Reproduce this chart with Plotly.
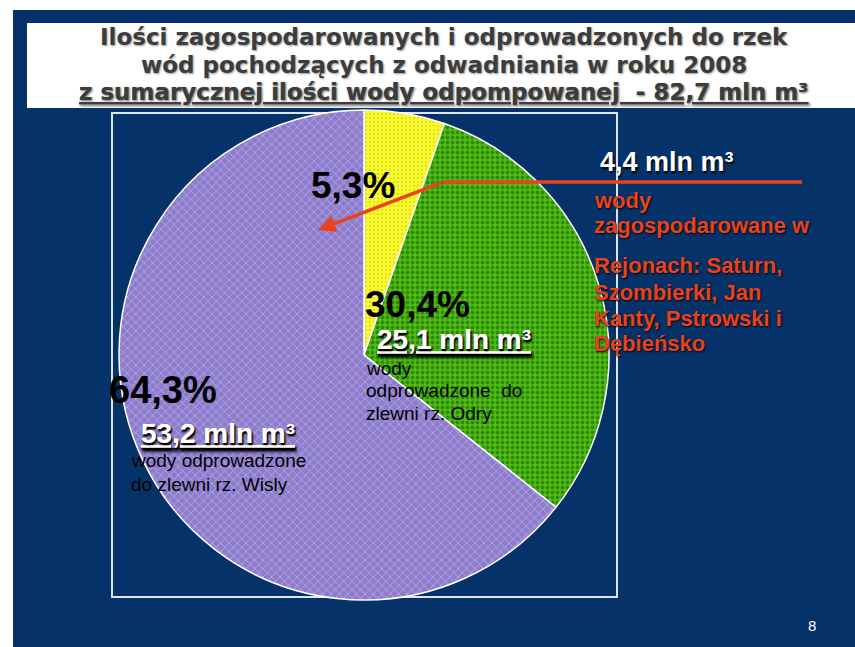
import plotly.graph_objects as go

# ---- data ----
labels = ["wody zagospodarowane", "wody odprowadzone do zlewni rz. Odry", "wody odprowadzone do zlewni rz. Wisly"]
volumes = [4.4, 25.1, 53.2]          # mln m3
percent_labels = ["5,3%", "30,4%", "64,3%"]
volume_labels = ["4,4 mln m³", "25,1 mln m³", "53,2 mln m³"]
total_label = "82,7 mln m³"
year = "2008"

W, H = 855, 647
def X(px): return px / W
def Y(py): return 1 - py / H

NAVY = "#06326A"
RED = "#E8431E"

bg_cols = ["#FFFF14", "#52BE14", "#8C7CCB"]
fg_cols = ["#D8D860", "#2E8A08", "#B8AEE6"]

fig = go.Figure()
cx, cy, r = 364, 355, 245
fig.add_trace(go.Pie(
    labels=labels, values=volumes, sort=False, direction="clockwise", rotation=0,
    textinfo="none", hoverinfo="label+value+percent", showlegend=False,
    marker=dict(colors=bg_cols, line=dict(color="white", width=1.5),
                pattern=dict(shape=[".", ".", "x"], fgcolor=fg_cols, bgcolor=bg_cols,
                             size=[4, 5, 6], solidity=[0.3, 0.45, 0.25])),
    domain=dict(x=[X(cx - r), X(cx + r)], y=[Y(cy + r), Y(cy - r)]),
))

shapes = [
    dict(type="rect", xref="paper", yref="paper", x0=X(13), x1=X(855), y0=Y(647), y1=Y(10),
         fillcolor=NAVY, line=dict(width=0), layer="below"),
    dict(type="rect", xref="paper", yref="paper", x0=X(27), x1=X(855), y0=Y(108), y1=Y(23),
         fillcolor="white", line=dict(width=0), layer="below"),
    dict(type="rect", xref="paper", yref="paper", x0=X(112), x1=X(617), y0=Y(597), y1=Y(113),
         fillcolor="rgba(0,0,0,0)", line=dict(color="#DDE6F0", width=2), layer="below"),
    dict(type="line", xref="paper", yref="paper", x0=X(443), x1=X(802), y0=Y(182), y1=Y(182),
         line=dict(color=RED, width=3.5)),
]

TF = "Liberation Sans, Arial, sans-serif"
annotations = []
def txt(x, y, text, size, color, bold=True, xanchor="center", shadow=None, under=False, family=TF):
    font = dict(family=family, size=size, color=color, weight="bold" if bold else "normal")
    if shadow:
        font["shadow"] = shadow
    if under:
        font["lineposition"] = "under"
    annotations.append(dict(x=X(x), y=Y(y), xref="paper", yref="paper", text=text, showarrow=False,
                            font=font, align="left" if xanchor == "left" else "center",
                            xanchor=xanchor, yanchor="middle"))

GRAY = "#3C3C3C"
tshadow = "1px 1px 2px #999"
TTF = "DejaVu Sans, Liberation Sans, sans-serif"
txt(444, 37, "Ilości zagospodarowanych i odprowadzonych do rzek", 23, GRAY, shadow=tshadow, family=TTF)
txt(444, 65, "wód pochodzących z odwadniania w roku " + year, 23, GRAY, shadow=tshadow, family=TTF)
txt(444, 92, "z sumarycznej ilości wody odpompowanej  - " + total_label, 23, GRAY, shadow=tshadow,
    under=True, family=TTF)

# percentages
txt(353, 185, percent_labels[0], 37, "black")
txt(417, 304, percent_labels[1], 37, "black")
txt(163, 390, percent_labels[2], 38, "black")

wshadow = "1px 2px 2px #000"
txt(667, 162, volume_labels[0], 27, "white", shadow=wshadow)
txt(454, 339, volume_labels[1], 28, "white", shadow=wshadow, under=True)
txt(218, 433, volume_labels[2], 28, "white", shadow=wshadow, under=True)

for yy, t in zip([368, 391, 413], ["wody", "odprowadzone  do", "zlewni rz. Odry"]):
    txt(364, yy, t, 19, "black", bold=False, xanchor="left")
for yy, t in zip([460, 484], ["wody odprowadzone", "do zlewni rz. Wisly"]):
    txt(129, yy, t, 19, "black", bold=False, xanchor="left")

rshadow = "1px 1px 2px #000"
for yy, t in zip([200, 225, 265, 292, 318, 343],
                 ["wody", "zagospodarowane w", "Rejonach: Saturn,", "Szombierki, Jan",
                  "Kanty, Pstrowski i", "Dębieńsko"]):
    txt(592, yy, t, 22, RED, shadow=rshadow, xanchor="left")

txt(812, 625, "8", 15, "white", bold=False)

# arrow
annotations.append(dict(x=X(318), y=Y(230), xref="paper", yref="paper", text="", showarrow=True,
                        ax=125, ay=-48, arrowhead=2, arrowsize=1, arrowwidth=3.5, arrowcolor=RED))

fig.update_layout(width=W, height=H, margin=dict(l=0, r=0, t=0, b=0),
                  paper_bgcolor="white", plot_bgcolor="white",
                  shapes=shapes, annotations=annotations,
                  xaxis=dict(visible=False), yaxis=dict(visible=False))
fig.write_html("out.html", config={"displayModeBar": False},
               post_script="document.body.style.margin='0';document.body.style.overflow='hidden';")
